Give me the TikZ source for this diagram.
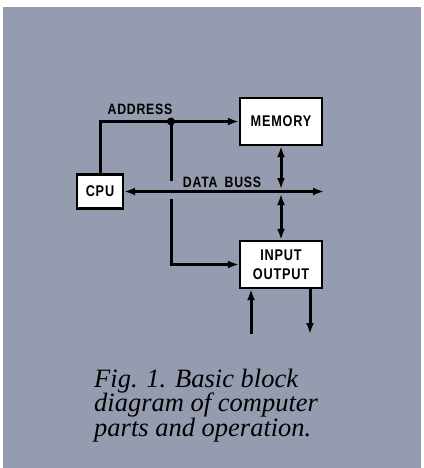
\documentclass[tikz,border=0pt]{standalone}
\usepackage{fontspec}
\usetikzlibrary{arrows.meta}
\newfontfamily\lblfont[FakeStretch=0.82,LetterSpace=5]{Liberation Sans Bold}
\newfontfamily\capfont{Liberation Serif}
\definecolor{bggray}{RGB}{149,156,176}
\tikzset{
  blk/.style={draw=black,fill=white,line width=2.4pt,inner sep=0pt,minimum width=82pt,minimum height=47pt,font=\lblfont\fontsize{15.5}{18.5}\selectfont,align=center},
  wire/.style={line width=3pt,draw=black},
  tip/.style={-{Latex[length=11pt,width=8pt]}},
  dtip/.style={{Latex[length=11pt,width=8pt]}-{Latex[length=11pt,width=8pt]}},
  lbl/.style={font=\lblfont\fontsize{15}{18}\selectfont,inner sep=0pt,anchor=base},
  captext/.style={font=\capfont\itshape\fontsize{26.5}{24.5}\selectfont,align=left,inner sep=0pt,anchor=base west}
}
\begin{document}
\begin{tikzpicture}[x=1pt,y=-1pt]
\useasboundingbox (0,0) rectangle (423,468);
\fill[white] (0,0) rectangle (423,468);
\fill[bggray] (3,7) rectangle (421,468);
% blocks
\node[blk] (mem) at (281,121.5) {MEMORY};
\node[blk,minimum width=46pt,minimum height=34pt] (cpu) at (100,191.5) {CPU};
\node[blk] (io) at (281,264.5) {INPUT\\OUTPUT};
% coordinates
\coordinate (j) at (171,121.5);
\coordinate (g1) at (171,181);
\coordinate (g2) at (171,199);
\coordinate (busend) at (324,191.5);
\coordinate (m1) at (281,189);
\coordinate (b1) at (281,194);
\coordinate (inb) at (251,334);
\coordinate (outb) at (310,334);
% address bus
\draw[wire,tip] (cpu.north) |- (mem.west);
\fill (j) circle (4pt);
\draw[wire] (j) -- (g1);
\draw[wire,tip] (g2) |- (io.west);
% data bus
\draw[wire,dtip] (cpu.east) -- (busend);
\draw[wire,dtip] (mem.south) -- (m1);
\draw[wire,dtip] (b1) -- (io.north);
% io lines
\draw[wire,tip] (inb) -- (inb |- io.south);
\draw[wire,tip] (outb |- io.south) -- (outb);
% labels
\node[lbl] (addr) at (140,114) {ADDRESS};
\node[lbl] (dbus) at (222,187) {DATA\hspace{3pt} BUSS};
\node[captext] (caption) at (94,436) {Fig. 1. Basic block\\diagram of computer\\parts and operation.};
\end{tikzpicture}
\end{document}
